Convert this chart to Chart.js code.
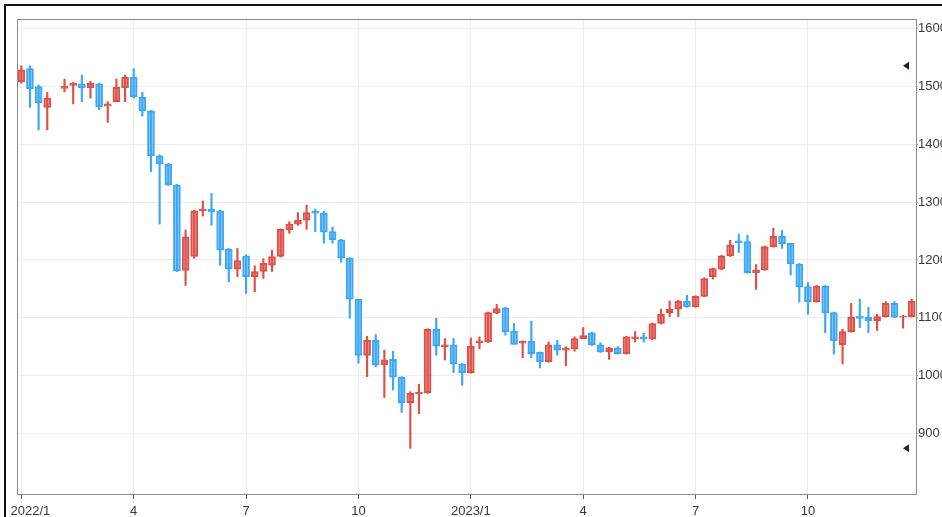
<!DOCTYPE html>
<html>
<head>
<meta charset="utf-8">
<script src="https://cdn.jsdelivr.net/npm/chart.js@4.4.1/dist/chart.umd.min.js"></script>
<style>
  html, body { margin: 0; padding: 0; background: #fff; overflow: hidden; }
  body { width: 942px; height: 517px; position: relative; }
  #chart { position: absolute; left: 0; top: 0; }
  #frame { position: absolute; left: 4px; top: 4px; width: 960px; height: 540px;
           border-top: 2px solid #111; border-left: 2px solid #111; }
</style>
</head>
<body>
<canvas id="chart" width="958" height="532"></canvas>
<div id="frame"></div>
<script>
// --- Data (weekly candles, 2022/1 .. 2023/12) ---
const opens = [1508, 1531, 1500, 1464, null, 1497, 1502, 1505, 1498, 1505,
  1466, 1474, 1498, 1516, 1482, 1458, 1380, 1366, 1330, 1182,
  1206, 1285, 1288, 1285, 1219, 1184, 1207, 1171, 1180, 1191,
  1206, 1252, 1262, 1269, 1284, 1281, 1249, 1235, 1203, 1132,
  1035, 1061, 1019, 1028, 997, 953, 968, 970, 1080, 1050,
  1053, 1020, 1005, 1057, 1058, 1108, 1117, 1077, 1056, 1059,
  1040, 1024, 1053, 1044, 1046, 1064, 1074, 1053, 1041, 1048,
  1038, 1064, 1067, 1063, 1090, 1109, 1115, 1129, 1119, 1137,
  1171, 1184, 1207, 1233, 1232, 1178, 1183, 1223, 1241, 1229,
  1193, 1154, 1128, 1155, 1109, 1053, 1076, 1103, 1101, 1095,
  1102, 1125, 1101, 1102];
const highs = [1536, 1536, 1503, 1490, null, 1513, 1507, 1520, 1509, 1506,
  1474, 1513, 1520, 1531, 1490, 1459, 1382, 1367, 1331, 1252,
  1286, 1302, 1315, 1286, 1220, 1220, 1209, 1190, 1202, 1217,
  1254, 1266, 1282, 1295, 1288, 1284, 1257, 1236, 1204, 1132,
  1068, 1071, 1044, 1042, 998, 972, 985, 1081, 1099, 1064,
  1064, 1021, 1065, 1067, 1110, 1123, 1118, 1090, 1060, 1094,
  1041, 1058, 1061, 1050, 1067, 1083, 1075, 1057, 1049, 1050,
  1068, 1076, 1073, 1091, 1115, 1129, 1130, 1139, 1138, 1169,
  1186, 1208, 1234, 1245, 1243, 1192, 1224, 1255, 1251, 1229,
  1194, 1161, 1156, 1156, 1110, 1080, 1125, 1132, 1118, 1106,
  1128, 1128, 1104, 1132];
const lows = [1506, 1464, 1425, 1425, null, 1491, 1470, 1474, 1480, 1460,
  1438, 1474, 1474, 1480, 1449, 1353, 1262, 1329, 1180, 1156,
  1203, 1276, 1260, 1191, 1162, 1171, 1142, 1145, 1168, 1180,
  1205, 1246, 1260, 1253, 1249, 1229, 1229, 1196, 1099, 1021,
  998, 1015, 962, 975, 936, 874, 934, 969, 1035, 1027,
  1005, 983, 1004, 1046, 1057, 1107, 1070, 1054, 1031, 1031,
  1013, 1023, 1035, 1017, 1042, 1064, 1052, 1040, 1028, 1037,
  1037, 1058, 1058, 1062, 1089, 1102, 1102, 1118, 1118, 1136,
  1167, 1183, 1206, 1213, 1177, 1149, 1182, 1222, 1220, 1174,
  1127, 1106, 1127, 1074, 1037, 1020, 1075, 1083, 1074, 1078,
  1101, 1100, 1082, 1101];
const closes = [1529, 1496, 1472, 1480, null, 1501, 1506, 1498, 1506, 1465,
  1470, 1499, 1516, 1482, 1458, 1380, 1366, 1330, 1181, 1240,
  1285, 1288, 1283, 1217, 1184, 1199, 1171, 1180, 1194, 1206,
  1253, 1262, 1269, 1282, 1281, 1248, 1235, 1203, 1132, 1035,
  1061, 1018, 1027, 997, 953, 969, 971, 1080, 1051, 1053,
  1020, 1005, 1051, 1060, 1109, 1116, 1076, 1054, 1059, 1038,
  1024, 1053, 1044, 1047, 1064, 1069, 1053, 1041, 1048, 1038,
  1067, 1067, 1063, 1090, 1106, 1115, 1129, 1119, 1137, 1168,
  1185, 1207, 1226, 1230, 1178, 1183, 1223, 1241, 1228, 1193,
  1153, 1128, 1155, 1108, 1060, 1076, 1101, 1099, 1095, 1102,
  1125, 1101, 1103, 1129];

// week start dates as categories
const weeks = [];
for (let i = 0; i < opens.length; i++) {
    const d = new Date(2022, 0, 3 + i * 7);
    weeks.push(`${d.getFullYear()}/${d.getMonth() + 1}/${d.getDate()}`);
}

// x tick labels (quarter starts)
const tickIndex = [0, 13, 26, 39, 52, 65, 78, 91];
const tickText = ['     2022/1', '4', '7', '10', '2023/1', '4', '7', '10'];

// y axis
const yTicks = [900, 1000, 1100, 1200, 1300, 1400, 1500, 1600];
const yMin = 795;
const yMax = 1617;

// --- Colors ---
const upLine = 'rgb(222, 80, 72)';
const upFill = 'rgba(222, 80, 72, 0.55)';
const downLine = 'rgb(60, 168, 245)';
const downFill = 'rgba(60, 168, 245, 0.55)';
const isUp = (i) => closes[i] >= opens[i];

const bodies = opens.map((o, i) => o === null ? null : [o, closes[i]]);
const wicks = lows.map((l, i) => l === null ? null : [l, highs[i]]);

// plot frame + high/low markers
const chartFrame = {
    id: 'chartFrame',
    afterDraw(chart) {
        const { ctx, chartArea: a, scales } = chart;
        ctx.save();
        ctx.strokeStyle = '#8c8c8c';
        ctx.lineWidth = 1;
        ctx.strokeRect(a.left + 0.5, a.top + 0.5, a.right - a.left, a.bottom - a.top);

        const hi = Math.max(...highs.filter(v => v !== null));
        const lo = Math.min(...lows.filter(v => v !== null));
        ctx.fillStyle = '#1c2333';
        [hi, lo].forEach(v => {
            const y = scales.y.getPixelForValue(v);
            const x = a.right - 13;
            ctx.beginPath();
            ctx.moveTo(x, y);
            ctx.lineTo(x + 6, y - 4);
            ctx.lineTo(x + 6, y + 4);
            ctx.closePath();
            ctx.fill();
        });
        ctx.restore();
    }
};

const ctx = document.getElementById('chart').getContext('2d');
new Chart(ctx, {
    type: 'bar',
    data: {
        labels: weeks,
        datasets: [
            {
                label: 'body',
                data: bodies,
                order: 0,
                grouped: false,
                barThickness: 7,
                borderWidth: 1.3,
                borderSkipped: false,
                backgroundColor: bodies.map((b, i) => isUp(i) ? upFill : downFill),
                borderColor: bodies.map((b, i) => isUp(i) ? upLine : downLine)
            },
            {
                label: 'wick',
                data: wicks,
                order: 1,
                grouped: false,
                barThickness: 1.5,
                borderWidth: 0,
                backgroundColor: wicks.map((w, i) => isUp(i) ? upLine : downLine)
            }
        ]
    },
    options: {
        responsive: false,
        animation: false,
        layout: { padding: { left: 17, top: 19, right: 0, bottom: 0 } },
        plugins: { legend: { display: false }, tooltip: { enabled: false } },
        scales: {
            x: {
                offset: true,
                border: { display: false },
                grid: { offset: false, color: '#ededed', tickColor: '#555', tickLength: 5 },
                afterBuildTicks: (scale) => {
                    scale.ticks = scale.ticks.filter(t => tickIndex.includes(t.value));
                },
                afterFit: (scale) => {
                    scale.height = 38;
                    scale.paddingLeft = 0;
                    scale.paddingRight = 0;
                },
                ticks: {
                    autoSkip: false,
                    maxRotation: 0,
                    padding: 5,
                    color: '#333a45',
                    font: { family: 'Liberation Sans, Arial, sans-serif', size: 13 },
                    callback: (value) => tickText[tickIndex.indexOf(value)]
                }
            },
            y: {
                position: 'right',
                min: yMin,
                max: yMax,
                border: { display: false },
                grid: { color: '#ededed', tickColor: '#aaa', tickLength: 2 },
                afterBuildTicks: (scale) => {
                    scale.ticks = yTicks.map(v => ({ value: v }));
                },
                afterFit: (scale) => { scale.width = 42; },
                ticks: {
                    padding: 0,
                    color: '#333a45',
                    font: { family: 'Liberation Sans, Arial, sans-serif', size: 13 },
                    callback: (value) => String(value)
                }
            }
        }
    },
    plugins: [chartFrame]
});
</script>
</body>
</html>
